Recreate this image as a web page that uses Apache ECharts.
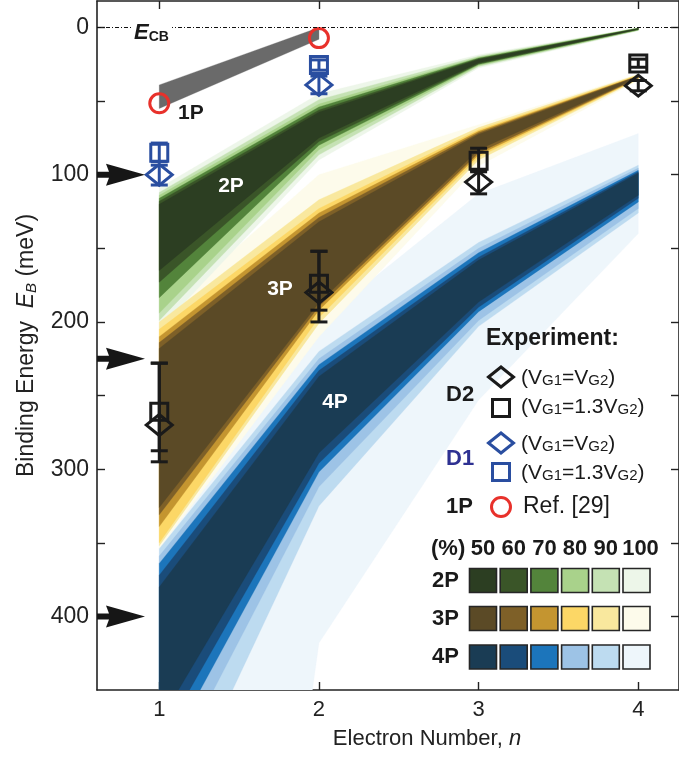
<!DOCTYPE html>
<html>
<head>
<meta charset="utf-8">
<script src="https://cdn.jsdelivr.net/npm/echarts@6/dist/echarts.min.js"></script>
<style>
  html, body { margin: 0; padding: 0; background: #fff; }
  #chart { width: 679px; height: 759px; }
</style>
</head>
<body>
<div id="chart"></div>
<script>
// ---- axes ----
const xTicks = [1, 2, 3, 4];
const yTicks = [0, 50, 100, 150, 200, 250, 300, 350, 400];
const yTickLabels = [0, 100, 200, 300, 400];

// ---- confidence bands (meV), rows = levels, columns = n ----
const nValues = [1, 2, 3, 4];
const levels = [50, 60, 70, 80, 90, 100];

const p2Top = [
  [120, 57.5, 21.7, 0.7],
  [118, 56, 21.2, 0.6],
  [116, 54, 20.7, 0.5],
  [114, 52, 20.2, 0.4],
  [112, 49, 19.5, 0.3],
  [109, 45, 18.5, 0.2]
];
const p2Bottom = [
  [165, 75, 24, 1.2],
  [173, 77.5, 24.6, 1.4],
  [183.5, 80, 25.2, 1.6],
  [194, 83, 25.8, 1.8],
  [199, 86.5, 26.5, 2.0],
  [205, 90, 27.5, 2.2]
];
const p3Top = [
  [218, 132, 72.5, 33.2],
  [214, 129, 71.5, 33],
  [210, 126, 70.5, 32.7],
  [205, 123, 69.5, 32.4],
  [200, 117, 68, 32],
  [196, 100, 66, 31.5]
];
const p3Bottom = [
  [326, 187, 83, 34],
  [331, 189.5, 85, 34.3],
  [339, 192, 86.5, 34.6],
  [350, 197, 88, 35],
  [352, 201, 90, 35.4],
  [354, 210, 94, 36]
];
const p4Top = [
  [380, 237, 158, 99],
  [372, 233, 156, 98],
  [364, 229, 153, 97],
  [359, 225, 150, 95.5],
  [354, 220, 146, 93.5],
  [350, 200, 113, 72]
];
const p4Bottom = [
  [472, 289, 186.5, 114],
  [486, 296, 190, 116],
  [501, 302, 193, 118.5],
  [521, 312, 199, 123],
  [556, 325, 203, 126],
  [1200, 418, 253, 140]
];

// 1P band (n = 1, 2)
const p1N = [1, 2];
const p1Top = [39, 0];
const p1Bottom = [55, 8];

// ---- experiment ----
const d2N = [1, 2, 3, 4];
const d2Diamond = [270, 180, 105, 39.5];
const d2DiamondLo = [228, 152, 97, 36];
const d2DiamondHi = [295, 200, 113, 43];
const d2Square = [261, 174, 90.5, 24.5];
const d2SquareLo = [228, 152, 82, 21.5];
const d2SquareHi = [287.5, 192, 98, 27];

const d1N = [1, 2];
const d1Diamond = [100, 39];
const d1DiamondLo = [93.5, 33];
const d1DiamondHi = [107, 45];
const d1Square = [85, 25.5];
const d1SquareLo = [78.5, 22];
const d1SquareHi = [91, 29];

const refN = [1, 2];
const refValues = [51.5, 7.2];

const arrowEnergies = [100, 225, 400];

// ---- palettes (50 → 100 %) ----
const pal2P = ['#2c3e22', '#3a5528', '#53843b', '#a9d28b', '#c5e2b4', '#edf6e9'];
const pal3P = ['#5b4a26', '#7e6028', '#c49530', '#fcd766', '#f9e89e', '#fdfbeb'];
const pal4P = ['#1a3c54', '#1a4c7a', '#1c75bb', '#9dc3e6', '#bddbf0', '#eef6fb'];

const FONT = "'Liberation Sans', Arial, Helvetica, sans-serif";
const INK = '#1a1a1a';
const BLUE = '#2a4ea0';
const RED = '#e8312b';

function clipOf(params) {
  const c = params.coordSys;
  return { type: 'rect', shape: { x: c.x, y: c.y, width: c.width, height: c.height } };
}

// one polygon per confidence level, widest drawn first
function bandSeries(name, xs, tops, bottoms, palette) {
  const order = tops.map((_, i) => i).reverse();
  return {
    type: 'custom',
    name: name,
    silent: true,
    z: 1,
    xAxisIndex: 0,
    yAxisIndex: 0,
    data: order.map(i => [xs[0], tops[i][0]]),
    renderItem: function (params, api) {
      const k = order[params.dataIndex];
      const pts = [];
      for (let j = 0; j < xs.length; j++) pts.push(api.coord([xs[j], tops[k][j]]));
      for (let j = xs.length - 1; j >= 0; j--) pts.push(api.coord([xs[j], bottoms[k][j]]));
      return {
        type: 'polygon',
        z2: params.dataIndex,
        shape: { points: pts },
        style: { fill: palette[k], stroke: palette[k], lineWidth: 0.3 },
        clipPath: clipOf(params)
      };
    }
  };
}

function errorSeries(xs, lo, hi, color) {
  return {
    type: 'custom',
    silent: true,
    z: 3,
    xAxisIndex: 0,
    yAxisIndex: 0,
    data: xs.map((n, i) => [n, lo[i], hi[i]]),
    encode: { x: 0, y: [1, 2] },
    renderItem: function (params, api) {
      const a = api.coord([api.value(0), api.value(1)]);
      const b = api.coord([api.value(0), api.value(2)]);
      const half = 8.5;
      const st = { stroke: color, lineWidth: 3 };
      return {
        type: 'group',
        children: [
          { type: 'line', shape: { x1: a[0], y1: a[1], x2: b[0], y2: b[1] }, style: st },
          { type: 'line', shape: { x1: a[0] - half, y1: a[1], x2: a[0] + half, y2: a[1] }, style: st },
          { type: 'line', shape: { x1: b[0] - half, y1: b[1], x2: b[0] + half, y2: b[1] }, style: st }
        ]
      };
    }
  };
}

function markerSeries(xs, ys, symbol, size, color, extra) {
  return Object.assign({
    type: 'scatter',
    silent: true,
    z: 4,
    xAxisIndex: 0,
    yAxisIndex: 0,
    symbol: symbol,
    symbolSize: size,
    clip: false,
    data: xs.map((n, i) => [n, ys[i]]),
    itemStyle: { color: 'rgba(0,0,0,0)', borderColor: color, borderWidth: 3, opacity: 1 }
  }, extra || {});
}

const subRich = {
  a: { fontSize: 22, fontFamily: FONT, color: INK, lineHeight: 25 },
  s: { fontSize: 15, fontFamily: FONT, color: INK, lineHeight: 6, verticalAlign: 'bottom' }
};

function txt(x, y, text, opts) {
  const o = opts || {};
  return {
    type: 'text', x: x, y: y, z: 100, silent: true,
    style: Object.assign({
      text: text,
      fill: o.color || INK,
      fontSize: o.size || 21,
      fontWeight: o.bold ? 'bold' : 'normal',
      fontStyle: o.italic ? 'italic' : 'normal',
      fontFamily: FONT,
      align: o.align || 'left', textAlign: o.align || 'left',
      verticalAlign: 'middle', textVerticalAlign: 'middle'
    }, o.rich ? { rich: o.rich } : {})
  };
}

function diamondShape(cx, cy, color) {
  return {
    type: 'polygon', z: 100, silent: true,
    shape: { points: [[cx - 12.5, cy], [cx, cy - 10], [cx + 12.5, cy], [cx, cy + 10]] },
    style: { fill: 'none', stroke: color, lineWidth: 3 }
  };
}
function squareShape(cx, cy, color) {
  return {
    type: 'rect', z: 100, silent: true,
    shape: { x: cx - 8.5, y: cy - 8.5, width: 17, height: 17 },
    style: { fill: 'none', stroke: color, lineWidth: 3 }
  };
}

// colour key swatches
const keyGraphics = [];
const keyLeft = 469.5, keyPitch = 30.7, keyW = 27, keyH = 24;
const keyRows = [['2P', pal2P, 568.5], ['3P', pal3P, 606.5], ['4P', pal4P, 645]];
keyGraphics.push(txt(431, 549, '(%)', { bold: true, size: 22 }));
levels.forEach((lv, i) => {
  keyGraphics.push(txt(keyLeft + i * keyPitch + keyW / 2 + (lv === 100 ? 4 : 0), 549, String(lv), { bold: true, size: 22, align: 'center' }));
});
keyRows.forEach(row => {
  keyGraphics.push(txt(432, row[2] + keyH / 2, row[0], { bold: true, size: 22 }));
  row[1].forEach((c, i) => {
    keyGraphics.push({
      type: 'rect', z: 100, silent: true,
      shape: { x: keyLeft + i * keyPitch, y: row[2], width: keyW, height: keyH },
      style: { fill: c, stroke: '#262626', lineWidth: 1.6 }
    });
  });
});

const chart = echarts.init(document.getElementById('chart'), null, { renderer: 'canvas' });

const option = {
  animation: false,
  backgroundColor: '#ffffff',
  grid: { left: 97, top: 1, width: 584, height: 689, containLabel: false },
  xAxis: [
    {
      type: 'value', min: 0.61, max: 4.255, position: 'bottom',
      axisLine: { show: true, onZero: false, lineStyle: { color: '#222', width: 1.6 } },
      axisTick: { show: true, inside: true, length: 8, customValues: xTicks, lineStyle: { color: '#222', width: 1.4 } },
      axisLabel: { customValues: xTicks, fontSize: 22, color: '#222', margin: 9, fontFamily: FONT },
      splitLine: { show: false },
      name: '{a|Electron Number, }{i|n}',
      nameLocation: 'middle',
      nameGap: 38,
      nameTextStyle: {
        padding: [0, 0, 0, 78],
        rich: {
          a: { fontSize: 22, fontFamily: FONT, color: '#222' },
          i: { fontSize: 22, fontFamily: FONT, fontStyle: 'italic', color: '#222' }
        }
      }
    },
    {
      type: 'value', min: 0.61, max: 4.255, position: 'top',
      axisLine: { show: true, onZero: false, lineStyle: { color: '#222', width: 1.6 } },
      axisTick: { show: true, inside: true, length: 8, customValues: xTicks, lineStyle: { color: '#222', width: 1.4 } },
      axisLabel: { show: false },
      splitLine: { show: false }
    }
  ],
  yAxis: [
    {
      type: 'value', inverse: true, min: -18, max: 450, position: 'left',
      axisLine: { show: true, onZero: false, lineStyle: { color: '#222', width: 1.6 } },
      axisTick: { show: true, inside: true, length: 8, customValues: yTicks, lineStyle: { color: '#222', width: 1.4 } },
      axisLabel: { customValues: yTickLabels, fontSize: 23, color: '#222', margin: 8, fontFamily: FONT },
      splitLine: { show: false },
      name: '{a|Binding Energy  }{i|E}{s|B}{a| (meV)}',
      nameLocation: 'middle',
      nameRotate: 90,
      nameGap: 55,
      nameTextStyle: {
        rich: {
          a: { fontSize: 23, fontFamily: FONT, color: '#222', lineHeight: 27 },
          i: { fontSize: 23, fontFamily: FONT, fontStyle: 'italic', color: '#222', lineHeight: 27 },
          s: { fontSize: 15, fontFamily: FONT, fontStyle: 'italic', color: '#222', lineHeight: 8, verticalAlign: 'bottom' }
        }
      }
    },
    {
      type: 'value', inverse: true, min: -18, max: 450, position: 'right',
      axisLine: { show: true, onZero: false, lineStyle: { color: '#222', width: 1.6 } },
      axisTick: { show: true, inside: true, length: 8, customValues: yTicks, lineStyle: { color: '#222', width: 1.4 } },
      axisLabel: { show: false },
      splitLine: { show: false }
    }
  ],
  series: [
    bandSeries('4P', nValues, p4Top, p4Bottom, pal4P),
    bandSeries('3P', nValues, p3Top, p3Bottom, pal3P),
    bandSeries('2P', nValues, p2Top, p2Bottom, pal2P),
    bandSeries('1P', p1N, [p1Top], [p1Bottom], ['#6a6a6a']),
    errorSeries(d2N, d2DiamondLo, d2DiamondHi, INK),
    errorSeries(d2N, d2SquareLo, d2SquareHi, INK),
    errorSeries(d1N, d1DiamondLo, d1DiamondHi, BLUE),
    errorSeries(d1N, d1SquareLo, d1SquareHi, BLUE),
    markerSeries(d2N, d2Diamond, 'diamond', [26, 21], INK, {
      markLine: {
        silent: true, symbol: 'none', animation: false,
        label: { show: false },
        lineStyle: { color: '#111', width: 1, type: [4, 2, 1, 2], opacity: 1 },
        data: [{ yAxis: 0 }]
      }
    }),
    markerSeries(d2N, d2Square, 'rect', [17, 17], INK),
    markerSeries(d1N, d1Diamond, 'diamond', [26, 21], BLUE),
    markerSeries(d1N, d1Square, 'rect', [17, 17], BLUE),
    markerSeries(refN, refValues, 'circle', 19, RED),
    {
      type: 'scatter', silent: true, clip: false, z: 4,
      xAxisIndex: 0, yAxisIndex: 0,
      symbol: 'path://M0,8 L12,8 L9,0 L48,11 L9,22 L12,14 L0,14 Z',
      symbolSize: [48, 22],
      symbolOffset: [24, 0],
      itemStyle: { color: '#161616', opacity: 1 },
      data: arrowEnergies.map(e => [0.61, e])
    }
  ],
  graphic: {
    elements: [
      // gap in the conduction-band line for its label
      { type: 'rect', z: 90, silent: true, shape: { x: 132, y: 18, width: 40, height: 22 }, style: { fill: '#fff' } },
      txt(134, 33, '{e|E}{c|CB}', {
        rich: {
          e: { fontSize: 22, fontWeight: 'bold', fontStyle: 'italic', fontFamily: FONT, color: INK, lineHeight: 22 },
          c: { fontSize: 14, fontWeight: 'bold', fontFamily: FONT, color: INK, lineHeight: 6, verticalAlign: 'bottom' }
        }
      }),
      txt(178, 113, '1P', { bold: true, size: 21 }),
      txt(231, 186, '2P', { bold: true, size: 21, color: '#fff', align: 'center' }),
      txt(280, 289, '3P', { bold: true, size: 21, color: '#fff', align: 'center' }),
      txt(335, 402, '4P', { bold: true, size: 21, color: '#fff', align: 'center' }),

      // experiment legend
      txt(486, 339, 'Experiment:', { bold: true, size: 23 }),
      diamondShape(501, 377, INK),
      txt(521, 378, '(V{s|G1}=V{s|G2})', { rich: subRich }),
      txt(446, 395, 'D2', { bold: true, size: 22 }),
      squareShape(501, 408, INK),
      txt(521, 407, '(V{s|G1}=1.3V{s|G2})', { rich: subRich }),
      diamondShape(501, 443, BLUE),
      txt(521, 444, '(V{s|G1}=V{s|G2})', { rich: subRich }),
      txt(446, 459, 'D1', { bold: true, size: 22, color: '#2e3192' }),
      squareShape(501, 472, BLUE),
      txt(521, 473, '(V{s|G1}=1.3V{s|G2})', { rich: subRich }),
      txt(446, 507, '1P', { bold: true, size: 22 }),
      { type: 'circle', z: 100, silent: true, shape: { cx: 501, cy: 507, r: 9.5 }, style: { fill: 'none', stroke: RED, lineWidth: 3 } },
      txt(523, 507, 'Ref. [29]', { size: 23 })
    ].concat(keyGraphics)
  }
};

chart.setOption(option);
</script>
</body>
</html>
